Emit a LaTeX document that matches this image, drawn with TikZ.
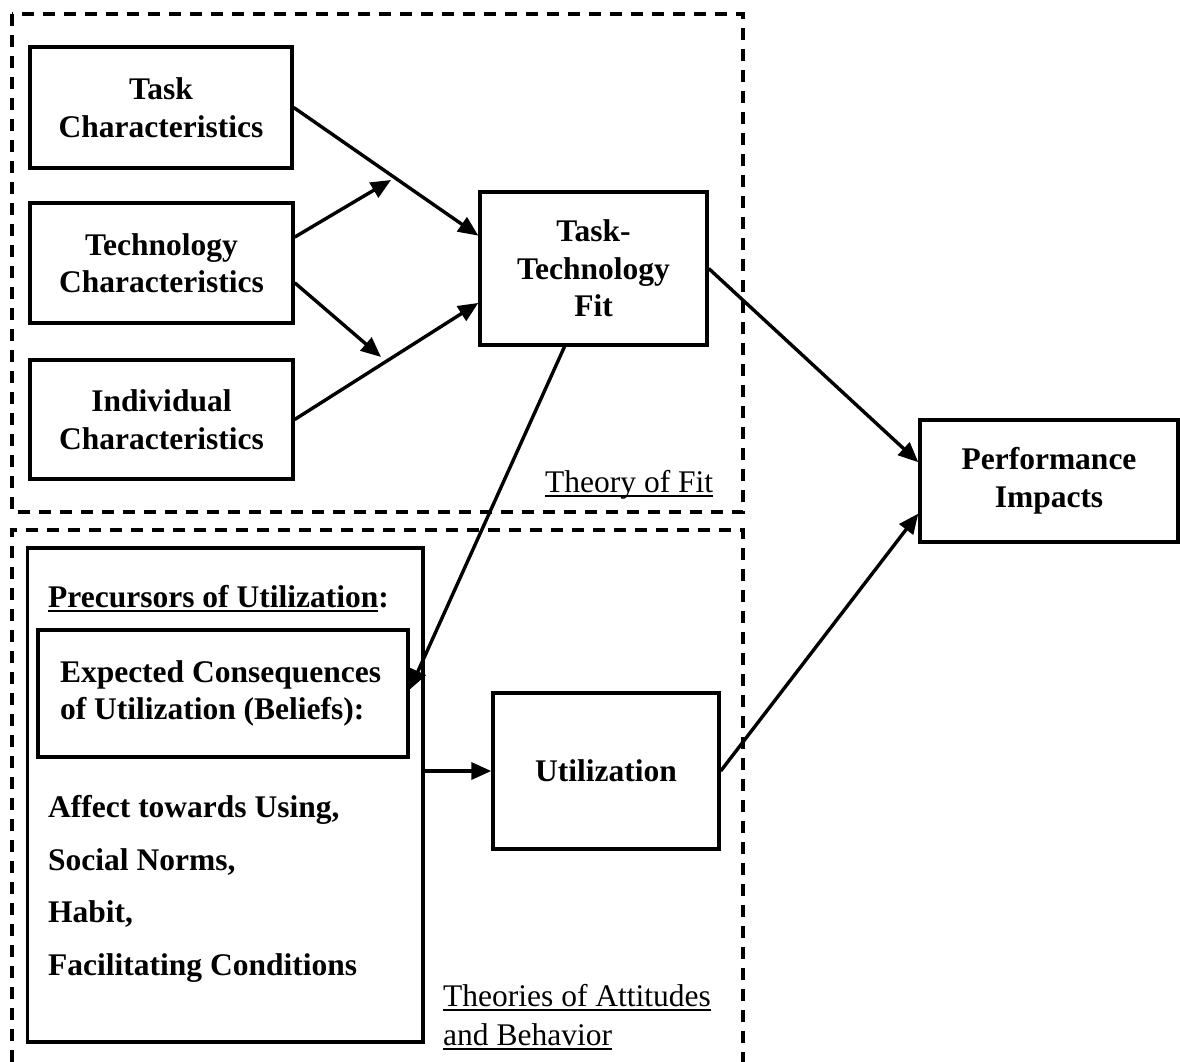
\documentclass[tikz,border=0pt]{standalone}
\usepackage{fontspec}
\setmainfont{Liberation Serif}
\usetikzlibrary{arrows.meta,calc}

% underline drawn 3pt to 5pt below the baseline
\newsavebox{\ulinebox}
\newcommand{\ulinetext}[1]{\sbox{\ulinebox}{#1}%
  \rlap{\vrule height -3pt depth 5pt width \wd\ulinebox}\usebox{\ulinebox}}

\tikzset{
  box/.style={draw, line width=3.4pt, inner sep=0pt, align=center,
    font=\fontsize{31.5}{37.5}\selectfont\bfseries},
  txt/.style={inner sep=0pt, anchor=base west,
    font=\fontsize{31.5}{37.5}\selectfont\bfseries},
  lbl/.style={inner sep=0pt, anchor=base west,
    font=\fontsize{31.5}{37.5}\selectfont},
  link/.style={line width=3.4pt, -{Triangle[length=20pt,width=17pt]}},
  frame/.style={line width=3.2pt, dash pattern=on 12pt off 9pt}
}

\begin{document}
\begin{tikzpicture}[x=1pt,y=-1pt]
\useasboundingbox (0,0) rectangle (1180,1062);

% dashed frames of the two theories
\draw[frame] (12,14) rectangle (743,512);
\draw[frame] (12,1062) -- (12,530) -- (743,530) -- (743,1062);

% theory of fit
\node[box, minimum width=262pt, minimum height=121pt] (task) at (161,107.5)
  {Task\\Characteristics};
\node[box, minimum width=263pt, minimum height=120pt] (tech) at (161.5,263)
  {Technology\\Characteristics};
\node[box, minimum width=263pt, minimum height=119pt] (indiv) at (161.5,419.5)
  {Individual\\Characteristics};
\node[box, minimum width=227pt, minimum height=153pt] (ttf) at (593.5,268.5)
  {Task-\\Technology\\Fit};
\node[lbl] (fitlbl) at (545,492) {\ulinetext{Theory of Fit}};

% performance
\node[box, minimum width=258pt, minimum height=122pt] (perf) at (1049,481)
  {Performance\\Impacts};

% attitudes and behaviour
\node[box, minimum width=395.5pt, minimum height=494pt] (prec) at (225.25,795) {};
\node[txt] (prechead) at (48,607) {\ulinetext{Precursors of Utilization}:};
\node[box, minimum width=370pt, minimum height=127pt, align=flush left,
  text width=326pt, inner xsep=22pt] (expect) at (223,693.5)
  {Expected Consequences\\of Utilization (Beliefs):};
\node[txt] (affect) at (48,817) {Affect towards Using,};
\node[txt] (norms) at (48,870) {Social Norms,};
\node[txt] (habit) at (48,922) {Habit,};
\node[txt] (facil) at (48,975) {Facilitating Conditions};
\node[box, minimum width=226pt, minimum height=156pt] (util) at (606,771)
  {Utilization};
\node[lbl] (attlbl1) at (443,1006) {\ulinetext{Theories of Attitudes}};
\node[lbl] (attlbl2) at (443,1045) {\ulinetext{and Behavior}};

% free ends of the interaction arrows
\coordinate (jA) at (391,180);
\coordinate (jB) at (381,357);

% connectors
\draw[link] (task.east) -- ($(ttf.north west)!0.29!(ttf.south west)$);
\draw[link] ($(tech.north east)!0.29!(tech.south east)$) -- (jA);
\draw[link] ($(tech.north east)!0.66!(tech.south east)$) -- (jB);
\draw[link] (indiv.east) -- ($(ttf.north west)!0.72!(ttf.south west)$);
\draw[link] ($(ttf.south west)!0.374!(ttf.south east)$) --
  ($(expect.north east)!0.47!(expect.south east)$);
\draw[link] (prec.east |- util.west) -- (util.west);
\draw[link] (ttf.east) -- ($(perf.north west)!0.35!(perf.south west)$);
\draw[link] (util.east) -- ($(perf.north west)!0.76!(perf.south west)$);
\end{tikzpicture}
\end{document}
